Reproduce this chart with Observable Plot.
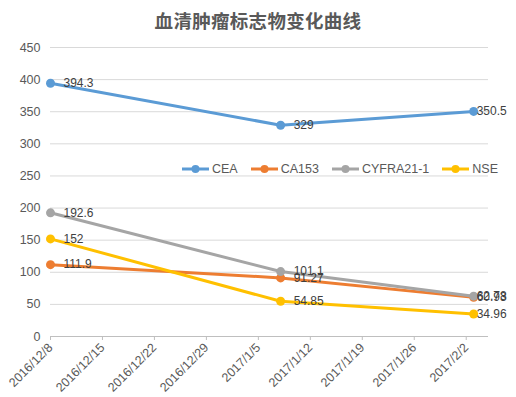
<!DOCTYPE html>
<html>
<head>
<meta charset="utf-8">
<script src="https://cdn.jsdelivr.net/npm/d3@7"></script>
<script src="https://cdn.jsdelivr.net/npm/@observablehq/plot@0.6"></script>
<style>
  html, body { margin: 0; padding: 0; background: #fff; }
  #wrap { position: relative; width: 516px; height: 397px; overflow: hidden; font-family: "Liberation Sans", Arial, sans-serif; }
  #title { height: 34px; line-height: 40px; text-align: center; font-family: "Noto Sans CJK SC", sans-serif; font-size: 18.5px; font-weight: 600; color: #595959; letter-spacing: 0.3px; }
  #legend { position: absolute; top: 162px; left: 182px; display: flex; align-items: center; font-size: 12.5px; color: #595959; }
  #legend .item { display: flex; align-items: center; margin-right: 13px; }
  #legend svg { margin-right: 3px; }
</style>
</head>
<body>
<div id="wrap">
  <div id="title">血清肿瘤标志物变化曲线</div>
  <div id="chart"></div>
  <div id="legend"></div>
</div>
<script>
const dates = ["2016-12-08", "2017-01-08", "2017-02-03"];
const seriesNames = ["CEA", "CA153", "CYFRA21-1", "NSE"];
const cea = [394.3, 329, 350.5];
const ca153 = [111.9, 91.27, 60.93];
const cyfra = [192.6, 101.1, 62.78];
const nse = [152, 54.85, 34.96];
const colors = ["#5b9bd5", "#ed7d31", "#a5a5a5", "#ffc000"];
const yTicks = [0, 50, 100, 150, 200, 250, 300, 350, 400, 450];
const xTickLabels = ["2016/12/8", "2016/12/15", "2016/12/22", "2016/12/29", "2017/1/5", "2017/1/12", "2017/1/19", "2017/1/26", "2017/2/2"];
const xDomain = ["2016-12-08", "2017-02-05"];

const parse = d3.utcParse("%Y-%m-%d");
const parseTick = d3.utcParse("%Y/%m/%d");
const fmtTick = d3.utcFormat("%Y/%-m/%-d");
const valuesBySeries = [cea, ca153, cyfra, nse];
const rows = [];
seriesNames.forEach((s, si) => {
  valuesBySeries[si].forEach((v, i) => {
    rows.push({series: s, date: parse(dates[i]), value: v, idx: i});
  });
});

const chart = Plot.plot({
  width: 516,
  height: 363,
  marginTop: 13,
  marginBottom: 61,
  marginLeft: 50,
  marginRight: 28,
  style: {fontFamily: "'Liberation Sans', Arial, sans-serif", fontSize: "12px", color: "#595959", background: "#fff"},
  x: {type: "utc", domain: xDomain.map(parse)},
  y: {domain: [0, 450]},
  color: {domain: seriesNames, range: colors},
  marks: [
    Plot.ruleY(yTicks.filter(d => d > 0), {stroke: "#d9d9d9", strokeWidth: 1}),
    Plot.ruleY([0], {stroke: "#bfbfbf", strokeWidth: 1}),
    Plot.axisY({ticks: yTicks, tickSize: 0, tickPadding: 10, fontSize: 12.5, fill: "#595959", label: null}),
    Plot.axisX({ticks: xTickLabels.map(parseTick), tickFormat: fmtTick, tickRotate: -45, tickSize: 4, tickPadding: 5, stroke: "#bfbfbf", fill: "#595959", fontSize: 12.5, label: null}),
    Plot.line(rows, {x: "date", y: "value", z: "series", stroke: "series", strokeWidth: 3, strokeLinecap: "round"}),
    Plot.dot(rows, {x: "date", y: "value", fill: "series", r: 4.5}),
    Plot.text(rows.filter(d => d.idx < 2), {x: "date", y: "value", text: d => String(d.value), textAnchor: "start", dx: 13, fill: "#404040", fontSize: 12}),
    Plot.text(rows.filter(d => d.idx === 2), {x: "date", y: "value", text: d => String(d.value), textAnchor: "start", dx: 3, fill: "#404040", fontSize: 12})
  ]
});
document.getElementById("chart").appendChild(chart);

const legend = document.getElementById("legend");
seriesNames.forEach((s, i) => {
  const item = document.createElement("div");
  item.className = "item";
  item.innerHTML = `<svg width="27" height="10"><line x1="0" y1="5" x2="27" y2="5" stroke="${colors[i]}" stroke-width="3"/><circle cx="13.5" cy="5" r="4" fill="${colors[i]}"/></svg><span>${s}</span>`;
  legend.appendChild(item);
});
</script>
</body>
</html>
